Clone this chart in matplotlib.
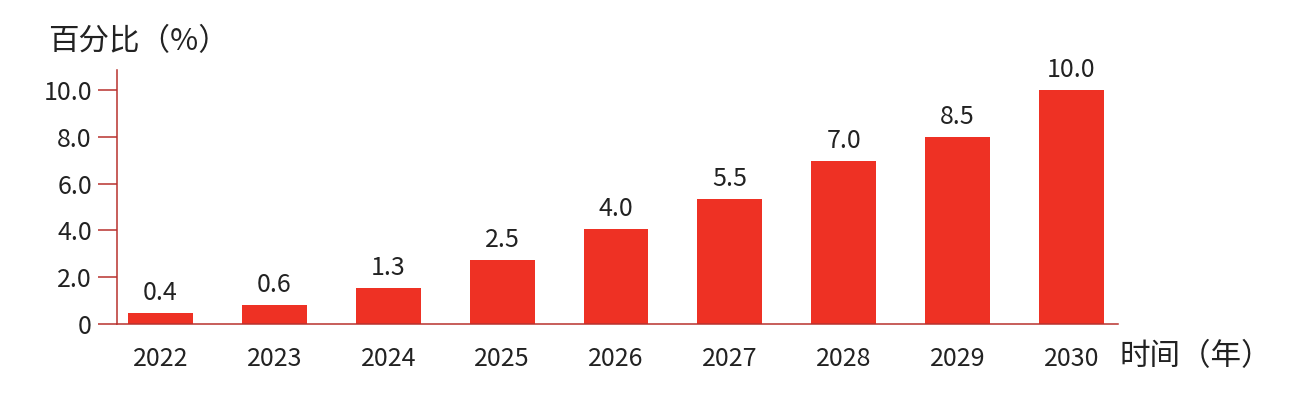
import numpy as np
import matplotlib
matplotlib.use('Agg')
import matplotlib.pyplot as plt

plt.rcParams['font.family'] = ['Noto Sans CJK SC', 'DejaVu Sans']

years = ['2022', '2023', '2024', '2025', '2026', '2027', '2028', '2029', '2030']
# bar heights as drawn in the picture
bar_heights = [0.47, 0.81, 1.54, 2.73, 4.05, 5.33, 6.98, 8.0, 10.0]
# value labels printed above the bars
value_labels = ['0.4', '0.6', '1.3', '2.5', '4.0', '5.5', '7.0', '8.5', '10.0']
yticks = [0, 2, 4, 6, 8, 10]
ytick_labels = ['0', '2.0', '4.0', '6.0', '8.0', '10.0']

bar_color = '#EE3124'
axis_color = '#B8322E'
text_color = '#222222'

fig = plt.figure(figsize=(13.13, 3.93), dpi=100)
ax = fig.add_axes([0.0891, 0.1756, 0.7624, 0.6463])

x = np.arange(len(years))
bars = ax.bar(x, bar_heights, width=0.57, color=bar_color, zorder=2)

for b, lab in zip(bars, value_labels):
    ax.annotate(lab, (b.get_x() + b.get_width() / 2, b.get_height()),
                xytext=(0, 5), textcoords='offset points',
                ha='center', va='bottom', fontsize=18, color=text_color)

ax.set_xlim(-0.382, 8.408)
ax.set_ylim(0, 10.85)
ax.set_xticks(x)
ax.set_xticklabels(years)
ax.set_yticks(yticks)
ax.set_yticklabels(ytick_labels)

for s in ['top', 'right']:
    ax.spines[s].set_visible(False)
for s in ['left', 'bottom']:
    ax.spines[s].set_color(axis_color)
    ax.spines[s].set_linewidth(1.1)

ax.tick_params(axis='y', length=14, width=1.1, color=axis_color,
               labelsize=18, labelcolor=text_color, pad=4)
ax.tick_params(axis='x', length=0, labelsize=18, labelcolor=text_color, pad=16)

fig.text(48 / 1313, 1 - 42 / 393, '百分比（%）', fontsize=22, color=text_color,
         ha='left', va='center')
fig.text(1120 / 1313, 1 - 357 / 393, '时间（年）', fontsize=22, color=text_color,
         ha='left', va='center')

fig.savefig('out.png', dpi=100)
